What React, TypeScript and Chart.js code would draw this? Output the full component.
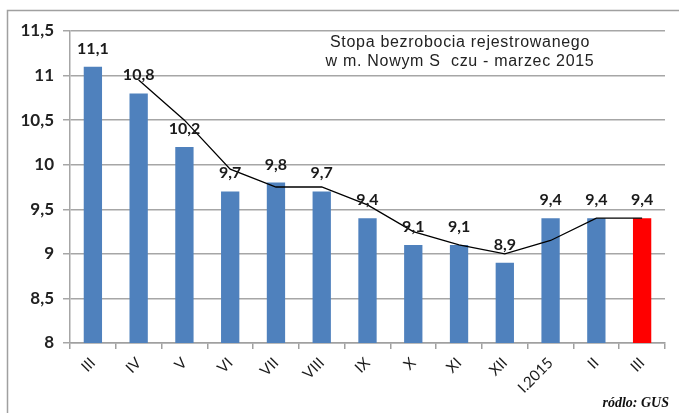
import React, { useEffect, useRef } from "react";
import { Chart, registerables } from "chart.js";

Chart.register(...registerables);

const categories = ["III", "IV", "V", "VI", "VII", "VIII", "IX", "X", "XI", "XII", "I.2015", "II", "III"];
const rates = [11.1, 10.8, 10.2, 9.7, 9.8, 9.7, 9.4, 9.1, 9.1, 8.9, 9.4, 9.4, 9.4];
const trend = [null, 10.95, 10.5, 9.95, 9.75, 9.75, 9.55, 9.25, 9.1, 9.0, 9.15, 9.4, 9.4];
const barColors = ["#4F81BD", "#4F81BD", "#4F81BD", "#4F81BD", "#4F81BD", "#4F81BD", "#4F81BD", "#4F81BD", "#4F81BD", "#4F81BD", "#4F81BD", "#4F81BD", "#FF0000"];
const titleLines = ["Stopa bezrobocia rejestrowanego", "w m. Nowym S  czu - marzec 2015"];
const sourceText = "ródlo: GUS";

const fmt = (v: number) => String(v).replace(".", ",");

const decorPlugin = {
  id: "decor",
  beforeDraw(chart: any) {
    const ctx = chart.ctx;
    ctx.save();
    ctx.fillStyle = "#ffffff";
    ctx.fillRect(0, 0, chart.width, chart.height);
    ctx.strokeStyle = "#a0a0a0";
    ctx.lineWidth = 1.5;
    ctx.beginPath();
    ctx.moveTo(7.5, chart.height);
    ctx.lineTo(7.5, 10.5);
    ctx.lineTo(chart.width, 10.5);
    ctx.stroke();
    ctx.restore();
  },
  afterDraw(chart: any) {
    const ctx = chart.ctx;
    ctx.save();
    // data labels
    const meta = chart.getDatasetMeta(0);
    ctx.fillStyle = "#1a1a1a";
    ctx.font = "bold 16px Lato";
    ctx.textAlign = "center";
    ctx.textBaseline = "alphabetic";
    meta.data.forEach((bar: any, i: number) => {
      ctx.fillText(fmt(rates[i]), bar.x, bar.y - 13);
    });
    // title
    ctx.fillStyle = "#222";
    ctx.font = "16px 'Liberation Sans'";
    (ctx as any).letterSpacing = "0.7px";
    ctx.textBaseline = "middle";
    ctx.fillText(titleLines[0], 460, 43);
    ctx.fillText(titleLines[1], 460, 62);
    (ctx as any).letterSpacing = "0px";
    // source
    ctx.font = "italic bold 14px 'Liberation Serif'";
    ctx.textAlign = "right";
    ctx.fillStyle = "#111";
    ctx.fillText(sourceText, 669, 403);
    ctx.restore();
  },
};

export default function App() {
  const ref = useRef<HTMLCanvasElement>(null);
  useEffect(() => {
    if (!ref.current) return;
    const chart = new Chart(ref.current, {
      type: "bar",
      data: {
        labels: categories,
        datasets: [
          {
            type: "bar",
            data: rates,
            backgroundColor: barColors,
            barPercentage: 0.4,
            categoryPercentage: 1,
            order: 1,
          } as any,
          {
            type: "line",
            data: trend,
            borderColor: "#000000",
            borderWidth: 1.3,
            pointRadius: 0,
            tension: 0,
            fill: false,
            order: 0,
          } as any,
        ],
      },
      options: {
        responsive: false,
        animation: false,
        layout: { padding: { top: 31, right: 14, left: 0, bottom: 0 } },
        plugins: { legend: { display: false }, tooltip: { enabled: false }, title: { display: false } },
        scales: {
          x: {
            offset: true,
            grid: { offset: true, drawOnChartArea: false, tickLength: 6, color: "#a0a0a0", lineWidth: 1.5 },
            border: { color: "#a0a0a0", width: 1.5 },
            ticks: {
              minRotation: 45,
              maxRotation: 45,
              padding: 5,
              color: "#1a1a1a",
              font: { family: "Lato", size: 15 },
            },
            afterFit: (s: any) => {
              s.height = 70;
            },
          },
          y: {
            min: 8,
            max: 11.5,
            ticks: {
              stepSize: 0.5,
              padding: 9,
              color: "#222",
              font: { family: "Lato", size: 17, weight: "bold" },
              callback: (v: any) => fmt(Number(v)),
            },
            grid: { color: "#a6a6a6", lineWidth: 1.5, tickLength: 7 },
            border: { color: "#a6a6a6", width: 1.5 },
            afterFit: (s: any) => {
              s.width = 70;
            },
          },
        },
      },
      plugins: [decorPlugin],
    });
    return () => chart.destroy();
  }, []);
  return (
    <div style={{ position: "fixed", left: 0, top: 0, width: 679, height: 413, background: "#fff" }}>
      <canvas ref={ref} width={679} height={413} style={{ display: "block" }} />
    </div>
  );
}
